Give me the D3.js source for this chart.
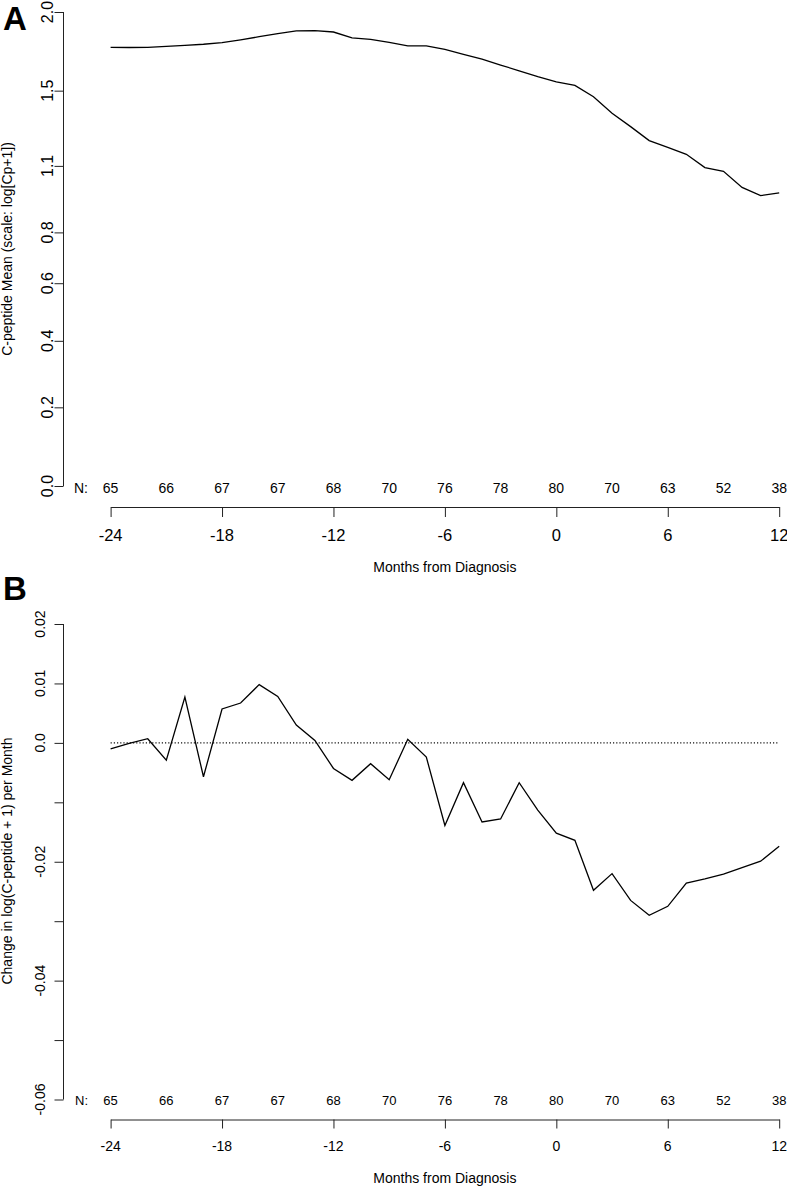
<!DOCTYPE html>
<html>
<head>
<meta charset="utf-8">
<script src="https://cdn.jsdelivr.net/npm/d3@7"></script>
<style>
  html, body { margin: 0; padding: 0; background: #fff; }
  svg { display: block; font-family: "Liberation Sans", Arial, Helvetica, sans-serif; }
</style>
</head>
<body>
<svg id="chart" width="787" height="1186"></svg>
<script>
// ---------- data ----------
const months = d3.range(-24, 13); // -24 .. 12
// Panel A: C-peptide mean (Cp units, plotted on log(Cp+1) scale)
const cpMean = [1.764, 1.763, 1.764, 1.770, 1.777, 1.784, 1.794, 1.813, 1.833, 1.854,
  1.871, 1.873, 1.864, 1.826, 1.815, 1.796, 1.774, 1.774, 1.751, 1.720,
  1.690, 1.653, 1.618, 1.583, 1.552, 1.531, 1.465, 1.372, 1.300, 1.227,
  1.192, 1.157, 1.092, 1.074, 0.998, 0.960, 0.973];
// Panel B: change in log(C-peptide + 1) per month
const cpChange = [-0.0010, -0.0001, 0.0007, -0.0029, 0.0077, -0.0057, 0.0057, 0.0067, 0.0098, 0.0078,
  0.0030, 0.0004, -0.0043, -0.0063, -0.0035, -0.0062, 0.0006, -0.0024, -0.0139, -0.0067,
  -0.0133, -0.0128, -0.0067, -0.0113, -0.0152, -0.0164, -0.0248, -0.0220, -0.0265, -0.0290,
  -0.0275, -0.0236, -0.0229, -0.0221, -0.0210, -0.0199, -0.0174];
// Sample sizes
const nMonths = [-24, -21, -18, -15, -12, -9, -6, -3, 0, 3, 6, 9, 12];
const nCounts = [65, 66, 67, 67, 68, 70, 76, 78, 80, 70, 63, 52, 38];
// Tick labels
const xTicks = [-24, -18, -12, -6, 0, 6, 12];
const yTicksA = [0.0, 0.2, 0.4, 0.6, 0.8, 1.1, 1.5, 2.0];
const yTickLabelsA = ["0.0", "0.2", "0.4", "0.6", "0.8", "1.1", "1.5", "2.0"];
const yTicksB = [0.02, 0.01, 0.0, -0.01, -0.02, -0.03, -0.04, -0.05, -0.06];
const yTickLabelsB = ["0.02", "0.01", "0.0", "", "-0.02", "", "-0.04", "", "-0.06"];

// ---------- drawing ----------
const svg = d3.select("#chart");
const axisColor = "#222";

const x = d3.scaleLinear().domain([-24, 12]).range([110.6, 779.2]);

function drawPanel(opts) {
  const g = svg.append("g");
  // y axis (ticks given in the scale's own domain)
  const yAxis = d3.axisLeft(opts.y)
    .tickValues(opts.yTicks.map(opts.toDomain))
    .tickSize(9)
    .tickSizeOuter(0)
    .tickFormat("");
  const ya = g.append("g").attr("transform", "translate(63.5,0)").call(yAxis);
  const yEnds = d3.extent(opts.yTicks.map(v => opts.y(opts.toDomain(v))));
  ya.select(".domain").attr("stroke", axisColor).attr("d", `M0,${yEnds[0]}V${yEnds[1]}`);
  ya.selectAll(".tick line").attr("stroke", axisColor);
  // y tick labels, rotated
  g.selectAll(".ylab").data(opts.yTicks).enter().append("text")
    .attr("transform", d => `translate(${opts.yLabX},${opts.y(opts.toDomain(d))}) rotate(-90)`)
    .attr("text-anchor", "middle")
    .attr("font-size", opts.yLabSize)
    .attr("fill", "#000")
    .text((d, i) => opts.yTickLabels[i]);
  // y title
  g.append("text")
    .attr("transform", `translate(12,${opts.yMid}) rotate(-90)`)
    .attr("text-anchor", "middle")
    .attr("font-size", 14)
    .text(opts.yTitle);

  // N labels
  g.append("text").attr("x", 88).attr("y", opts.nY)
    .attr("text-anchor", "end").attr("font-size", opts.nSize).text("N:");
  g.selectAll(".nlab").data(nMonths).enter().append("text")
    .attr("x", d => x(d)).attr("y", opts.nY)
    .attr("text-anchor", "middle").attr("font-size", opts.nSize)
    .text((d, i) => nCounts[i]);

  // x axis
  const xAxis = d3.axisBottom(x).tickValues(xTicks).tickSize(opts.xTickLen).tickSizeOuter(0).tickFormat("");
  const xa = g.append("g").attr("transform", `translate(0,${opts.xAxisY})`).call(xAxis);
  xa.select(".domain").attr("stroke", axisColor);
  xa.selectAll(".tick line").attr("stroke", axisColor);
  g.selectAll(".xlab").data(xTicks).enter().append("text")
    .attr("x", d => x(d)).attr("y", opts.xLabY)
    .attr("text-anchor", "middle").attr("font-size", opts.xLabSize)
    .text(d => d);
  g.append("text").attr("x", x(-6)).attr("y", opts.xTitleY)
    .attr("text-anchor", "middle").attr("font-size", 14)
    .text("Months from Diagnosis");

  // panel letter
  g.append("text").attr("x", 3).attr("y", opts.letterY)
    .attr("font-size", 33).attr("font-weight", "bold").text(opts.letter);

  return g;
}

// Panel A: log(Cp+1) scale
const yA = d3.scaleLog().domain([1, 3]).range([486, 12]);
const gA = drawPanel({
  y: yA, toDomain: v => v + 1, yTicks: yTicksA, yTickLabels: yTickLabelsA,
  yLabX: 53, yLabSize: 16, yMid: 249,
  yTitle: "C-peptide Mean (scale: log[Cp+1])",
  nY: 493, nSize: 14, xAxisY: 507, xTickLen: 10, xLabY: 540.5, xLabSize: 16.5,
  xTitleY: 571.5, letter: "A", letterY: 30
});
gA.append("path")
  .datum(months.map((m, i) => [m, cpMean[i]]))
  .attr("fill", "none").attr("stroke", "#000").attr("stroke-width", 1.3)
  .attr("d", d3.line().x(d => x(d[0])).y(d => yA(d[1] + 1)));

// Panel B
const yB = d3.scaleLinear().domain([-0.06, 0.02]).range([1099.5, 624]);
const gB = drawPanel({
  y: yB, toDomain: v => v, yTicks: yTicksB, yTickLabels: yTickLabelsB,
  yLabX: 45, yLabSize: 14, yMid: 861,
  yTitle: "Change in log(C-peptide + 1) per Month",
  nY: 1105, nSize: 13, xAxisY: 1119.5, xTickLen: 9, xLabY: 1150.5, xLabSize: 14,
  xTitleY: 1183, letter: "B", letterY: 600
});
gB.append("line")
  .attr("x1", x(-24)).attr("x2", x(12)).attr("y1", yB(0)).attr("y2", yB(0))
  .attr("stroke", "#111").attr("stroke-width", 1.1).attr("stroke-dasharray", "1.2,2");
gB.append("path")
  .datum(months.map((m, i) => [m, cpChange[i]]))
  .attr("fill", "none").attr("stroke", "#000").attr("stroke-width", 1.3)
  .attr("d", d3.line().x(d => x(d[0])).y(d => yB(d[1])));
</script>
</body>
</html>
